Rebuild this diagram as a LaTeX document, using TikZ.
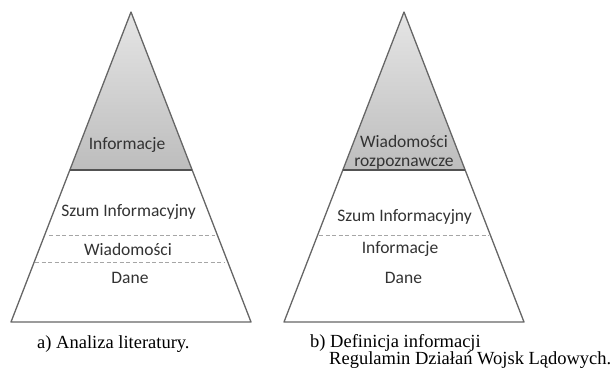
\documentclass[tikz,border=0pt]{standalone}
\usepackage{fontspec}
\setmainfont{Liberation Serif}
\newfontfamily\calib{Carlito}
\begin{document}
\begin{tikzpicture}[x=1pt,y=-1pt,
  edge/.style={draw=black!60,line width=1.3pt,line join=round},
  divider/.style={draw=black!68,line width=1.8pt},
  dashline/.style={draw=black!35,line width=0.9pt,dash pattern=on 4pt off 2.5pt},
  lbl/.style={font=\calib\fontsize{17.5}{20}\selectfont,text=black!80,inner sep=0pt,align=center},
  captxt/.style={font=\fontsize{18.5}{17}\selectfont,inner sep=0pt,anchor=base west}]
\useasboundingbox[fill=white] (0,0) rectangle (611,372);
% left pyramid
\coordinate (LA) at (131,12);
\coordinate (LL) at (11,322);
\coordinate (LR) at (251,322);
\shade[top color=black!10,bottom color=black!26] (LA) -- (70.2,170) -- (191.8,170) -- cycle;
\path[edge] (LA) -- (LL) -- (LR) -- cycle;
\path[divider] (70.2,170) -- (191.8,170);
\path[dashline] (49,235) -- (215,235);
\path[dashline] (35,262) -- (225,262);
\node[lbl] (l1) at (127,145) {Informacje};
\node[lbl] (l2) at (128.5,212) {Szum Informacyjny};
\node[lbl] (l3) at (128,249) {Wiadomości};
\node[lbl] (l4) at (130,278) {Dane};
% right pyramid
\coordinate (RA) at (404,12);
\coordinate (RL) at (284,322);
\coordinate (RR) at (524,322);
\shade[top color=black!10,bottom color=black!26] (RA) -- (343.2,170) -- (464.8,170) -- cycle;
\path[edge] (RA) -- (RL) -- (RR) -- cycle;
\path[divider] (343.2,170) -- (464.8,170);
\path[dashline] (319,235) -- (489,235);
\node[lbl] (r1) at (404,152) {Wiadomości\\[-1pt]rozpoznawcze};
\node[lbl] (r2) at (404.5,217) {Szum Informacyjny};
\node[lbl] (r3) at (400,249) {Informacje};
\node[lbl] (r4) at (403.5,278) {Dane};
% captions
\node[captxt] (ca) at (37,348) {a) Analiza literatury.};
\node[captxt] (cb) at (310,347) {b) Definicja informacji};
\node[captxt] (cc) at (329,364.5) {Regulamin Działań Wojsk Lądowych.};
\end{tikzpicture}
\end{document}
